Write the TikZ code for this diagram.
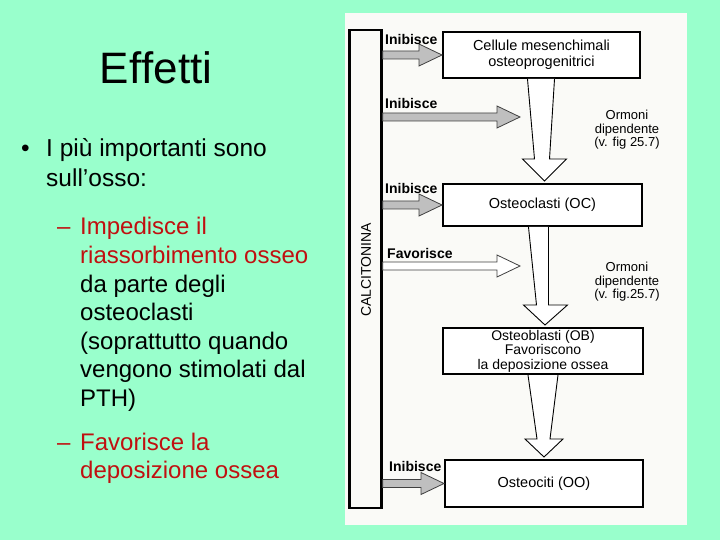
\documentclass[tikz,border=0pt]{standalone}
\usepackage{fontspec}
\setmainfont[Ligatures=NoCommon]{Liberation Sans}
\usetikzlibrary{calc}
\definecolor{bgmint}{RGB}{153,255,204}
\definecolor{txtred}{RGB}{192,16,16}
\definecolor{panelwhite}{RGB}{250,250,247}
\tikzset{
  cellbox/.style={draw=black, line width=2pt, fill=white, inner sep=0pt, align=center, font=\fontsize{14.5}{15.5}\selectfont},
  actlabel/.style={font=\bfseries\fontsize{14}{15}\selectfont, inner sep=0pt, anchor=west},
  hormtext/.style={font=\fontsize{13}{13.5}\selectfont, align=center, inner sep=0pt},
  inib/.style={draw=black!75, line width=0.8pt, fill=black!25},
  favo/.style={draw=black!75, line width=0.8pt, fill=white},
  hollow/.style={draw=black, line width=0.9pt, fill=white, line join=miter},
  bigtext/.style={inner sep=0pt, anchor=base west, font=\fontsize{24.5}{29}\selectfont},
  subtext/.style={inner sep=0pt, anchor=base west, font=\fontsize{24}{28.5}\selectfont}
}
\newcommand\blockarr[3]{%
  \draw[#1] ($(#2)+(0,-4)$) -- ($(#3)+(-23,-4)$) -- ($(#3)+(-23,-11)$) -- (#3)
    -- ($(#3)+(-23,11)$) -- ($(#3)+(-23,4)$) -- ($(#2)+(0,4)$) -- cycle;}
\begin{document}
\begin{tikzpicture}[x=1pt,y=-1pt]
\useasboundingbox (0,0) rectangle (720,540);
\fill[bgmint] (0,0) rectangle (720,540);
% left text
\node[inner sep=0pt, font=\fontsize{44}{44}\selectfont] (title) at (156,68) {Ef\kern0ptfetti};
\node[bigtext] (bul) at (21,157) {\textbullet};
\node[bigtext] (l1) at (46,157) {I più importanti sono};
\node[bigtext] (l2) at (46,187) {sull’osso:};
\node[subtext, text=txtred] (d1) at (57,235) {–};
\node[subtext, text=txtred] (s1a) at (80,235) {Impedisce il};
\node[subtext, text=txtred] (s1b) at (80,263.5) {riassorbimento osseo};
\node[subtext] (s1c) at (80,292) {da parte degli};
\node[subtext] (s1d) at (80,320.5) {osteoclasti};
\node[subtext] (s1e) at (80,349) {(soprattutto quando};
\node[subtext] (s1f) at (80,377.5) {vengono stimolati dal};
\node[subtext] (s1g) at (80,406) {PTH)};
\node[subtext, text=txtred] (d2) at (57,450) {–};
\node[subtext, text=txtred] (s2a) at (80,450) {Favorisce la};
\node[subtext, text=txtred] (s2b) at (80,478.5) {deposizione ossea};
% panel
\fill[panelwhite] (345,13) rectangle (687,525);
\node[draw=black, line width=2.4pt, minimum width=32pt, minimum height=478pt, inner sep=0pt] (calc) at (365.5,269) {};
\node[rotate=90, inner sep=0pt, font=\fontsize{14}{15}\selectfont] (calctxt) at (366,270) {CALCITONINA};
% boxes
\node[cellbox, minimum width=197pt, minimum height=46pt] (b1) at (541.5,55) {Cellule mesenchimali\\osteoprogenitrici};
\node[cellbox, minimum width=199pt, minimum height=42pt] (b2) at (542.5,205) {Osteoclasti (OC)};
\node[cellbox, minimum width=200pt, minimum height=46pt, font=\fontsize{14}{14.5}\selectfont] (b3) at (543,351) {Osteoblasti (OB)\\Favoriscono\\la deposizione ossea};
\node[cellbox, minimum width=198pt, minimum height=47pt] (b4) at (544,483.5) {Osteociti (OO)};
% hormone texts
\node[hormtext] (h1) at (627,130) {Ormoni\\dipendente\\(v. fig 25.7)};
\node[hormtext] (h2) at (627,282) {Ormoni\\dipendente\\(v. fig.25.7)};
% free ends
\coordinate (e2) at (520,117);
\coordinate (e4) at (520,266);
% hollow big arrows
\draw[hollow] ($(b1.south)+(-14,0)$) -- ($(b1.south)+(-7,80)$) -- ($(b1.south)+(-19,80)$) -- ($(b2.north)+(2,-2)$)
  -- ($(b1.south)+(25,80)$) -- ($(b1.south)+(8,80)$) -- ($(b1.south)+(13,0)$);
\draw[hollow] ($(b2.south)+(-14,0)$) -- ($(b2.south)+(-6,78)$) -- ($(b2.south)+(-19,78)$) -- ($(b3.north)+(2,-2)$)
  -- ($(b2.south)+(25,78)$) -- ($(b2.south)+(6,78)$) -- ($(b2.south)+(6,0)$);
\draw[hollow] ($(b3.south)+(-15,0)$) -- ($(b3.south)+(-6,64)$) -- ($(b3.south)+(-18,64)$) -- ($(b4.north)+(0,-2)$)
  -- ($(b3.south)+(20,64)$) -- ($(b3.south)+(7,64)$) -- ($(b3.south)+(15,0)$);
% small block arrows
\blockarr{inib}{calc.east |- b1.west}{b1.west}
\blockarr{inib}{calc.east |- e2}{e2}
\blockarr{inib}{calc.east |- b2.west}{b2.west}
\blockarr{favo}{calc.east |- e4}{e4}
\blockarr{inib}{calc.east |- b4.west}{b4.west}
% labels
\node[actlabel] (a1) at (385,39) {Inibisce};
\node[actlabel] (a2) at (385,103) {Inibisce};
\node[actlabel] (a3) at (385,188) {Inibisce};
\node[actlabel] (a4) at (387,253) {Favorisce};
\node[actlabel] (a5) at (389,466) {Inibisce};
\end{tikzpicture}
\end{document}
